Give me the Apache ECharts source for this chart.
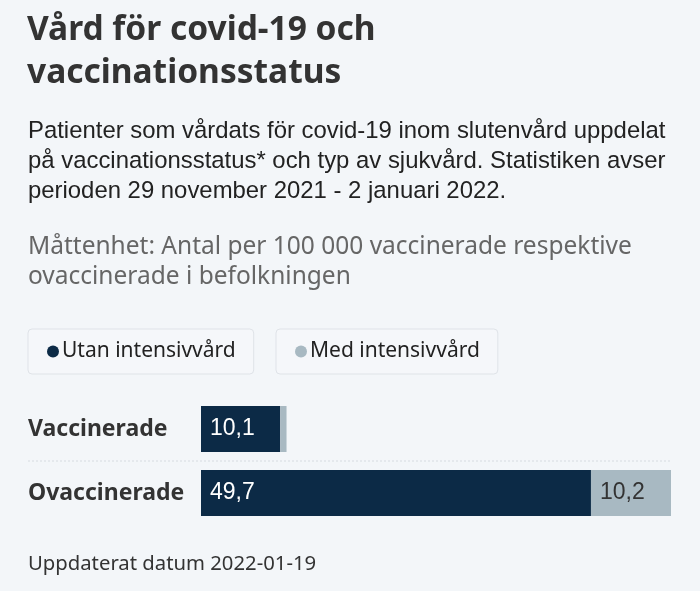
<!DOCTYPE html>
<html><head><meta charset="utf-8">
<script src="https://cdn.jsdelivr.net/npm/echarts@6/dist/echarts.min.js"></script>
<style>html,body{margin:0;padding:0;background:#f3f6f9;}#c{width:700px;height:591px;}</style>
</head><body><div id="c"></div>
<script>
var categories = ['Vaccinerade', 'Ovaccinerade'];
var seriesNames = ['Utan intensivvård', 'Med intensivvård'];
var utanValues = [10.1, 49.7];
var medValues = [0.8, 10.2];
var totals = categories.map(function (c, i) { return utanValues[i] + medValues[i]; });

var fmt = function (p) { return p.value >= 2 ? String(p.value).replace('.', ',') : ''; };
var chart = echarts.init(document.getElementById('c'));
chart.setOption({
  backgroundColor: '#f3f6f9',
  title: [
    { text: 'Vård för covid-19 och\nvaccinationsstatus', left: 27, top: 9, padding: 0,
      textStyle: { fontFamily: 'Noto Sans', fontWeight: 'bold', fontSize: 33.5, lineHeight: 43, color: '#333' } },
    { text: 'Patienter som vårdats för covid-19 inom slutenvård uppdelat\npå vaccinationsstatus* och typ av sjukvård. Statistiken avser\nperioden 29 november 2021 - 2 januari 2022.', left: 28, top: 116, padding: 0,
      textStyle: { fontFamily: 'Liberation Sans', fontWeight: 'normal', fontSize: 23.9, lineHeight: 30, color: '#222' } },
    { text: 'Måttenhet: Antal per 100 000 vaccinerade respektive\novaccinerade i befolkningen', left: 28, top: 232, padding: 0,
      textStyle: { fontFamily: 'Noto Sans', fontWeight: 'normal', fontSize: 24.5, lineHeight: 30, color: '#666' } },
    { text: 'Uppdaterat datum 2022-01-19', left: 28, top: 554, padding: 0,
      textStyle: { fontFamily: 'Noto Sans', fontWeight: 'normal', fontSize: 20.3, color: '#333' } }
  ],
  legend: [
    { data: [seriesNames[0]], left: 28, top: 329, icon: 'circle', itemWidth: 12, itemHeight: 12, itemGap: 6,
      padding: [12, 18, 12, 19], backgroundColor: '#f5f7fa', borderColor: '#dfe3e8', borderWidth: 1, borderRadius: 4,
      textStyle: { fontFamily: 'Noto Sans', fontSize: 21, color: '#222', padding: [0, 0, 0, -2] } },
    { data: [seriesNames[1]], left: 276, top: 329, icon: 'circle', itemWidth: 12, itemHeight: 12, itemGap: 6,
      padding: [12, 18, 12, 19], backgroundColor: '#f5f7fa', borderColor: '#dfe3e8', borderWidth: 1, borderRadius: 4,
      textStyle: { fontFamily: 'Noto Sans', fontSize: 21, color: '#222', padding: [0, 0, 0, -2] } }
  ],
  grid: { left: 201, right: 29, top: 397, height: 128, containLabel: false },
  xAxis: { type: 'value', min: 0, max: Math.max.apply(null, totals), show: false },
  yAxis: { type: 'category', data: categories, inverse: true,
    axisLine: { show: false }, axisTick: { show: false }, splitLine: { show: false },
    axisLabel: { align: 'left', margin: 173, fontFamily: 'Noto Sans', fontWeight: 'bold', fontSize: 23, color: '#333' } },
  graphic: [
    { type: 'line', shape: { x1: 28, y1: 461, x2: 671, y2: 461 }, style: { stroke: '#d6dbe0', lineWidth: 1, lineDash: [2, 2] } }
  ],
  series: [
    { name: seriesNames[0], type: 'bar', stack: 's', data: utanValues, barWidth: 46,
      itemStyle: { color: '#0c2a46' },
      label: { show: true, position: 'insideLeft', distance: 9, formatter: fmt, fontFamily: 'Liberation Sans', fontSize: 23, color: '#fff' } },
    { name: seriesNames[1], type: 'bar', stack: 's', data: medValues, barWidth: 46,
      itemStyle: { color: '#a8b9c2' },
      label: { show: true, position: 'insideLeft', distance: 9, formatter: fmt, fontFamily: 'Liberation Sans', fontSize: 23, color: '#333' } }
  ]
});
</script></body></html>
